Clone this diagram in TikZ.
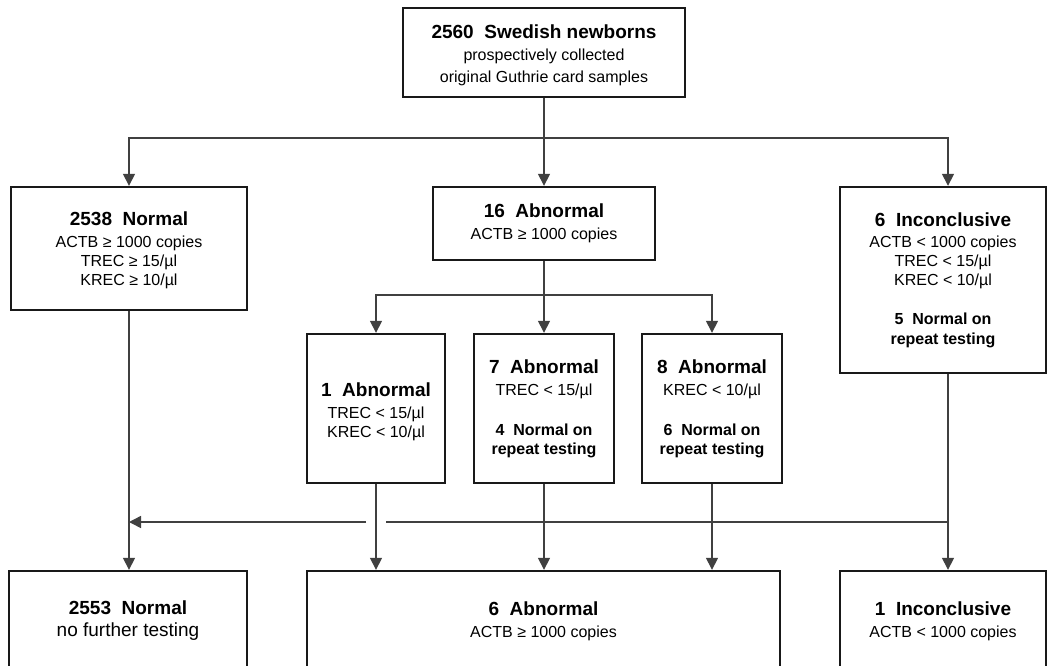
\documentclass[tikz,border=0pt]{standalone}
\usepackage{fontspec}
\setmainfont{Liberation Sans}
\usetikzlibrary{arrows.meta}
\newcommand\hdtext[1]{{\fontsize{19}{19}\selectfont\bfseries #1}}
\newcommand\bdtext[1]{{\bfseries #1}}
\begin{document}
\begin{tikzpicture}[x=1pt,y=-1pt,
  box/.style={draw=black!90, line width=2.4pt, inner sep=0pt, align=center, font=\fontsize{16}{19}\selectfont, fill=white},
  conn/.style={draw=black!75, line width=1.5pt},
  arr/.style={conn, -{Triangle[length=12pt,width=12pt]}},
]
\clip (0,0) rectangle (1048,665);
\fill[white] (0,0) rectangle (1048,665);

\node[box, minimum width=282pt, minimum height=89pt, font=\fontsize{16}{22}\selectfont] (top) at (544,52.5)
  {\rule{0pt}{20pt}\hdtext{2560\ \ Swedish newborns}\\prospectively collected\\original Guthrie card samples};

\node[box, minimum width=236pt, minimum height=123pt] (n1) at (129,248.5)
  {\rule{0pt}{18pt}\hdtext{2538\ \ Normal}\\[3pt]ACTB ≥ 1000 copies\\TREC ≥ 15/µl\\KREC ≥ 10/µl};
\node[box, minimum width=222pt, minimum height=73pt] (a16) at (544,223.5)
  {\hdtext{16\ \ Abnormal}\\[3pt]ACTB ≥ 1000 copies};
\node[box, minimum width=206pt, minimum height=186pt] (inc6) at (943,280)
  {\hdtext{6\ \ Inconclusive}\\[2pt]ACTB < 1000 copies\\TREC < 15/µl\\KREC < 10/µl\\[20pt]\bdtext{5\ \ Normal on}\\[1pt]\bdtext{repeat testing}};

\node[box, minimum width=138pt, minimum height=149pt] (ab1) at (376,408.5)
  {\rule{0pt}{20pt}\hdtext{1\ \ Abnormal}\\[3pt]TREC < 15/µl\\KREC < 10/µl};
\node[box, minimum width=140pt, minimum height=149pt] (ab7) at (544,408.5)
  {\hdtext{7\ \ Abnormal}\\[3pt]TREC < 15/µl\\[21pt]\bdtext{4\ \ Normal on}\\\bdtext{repeat testing}};
\node[box, minimum width=140pt, minimum height=149pt] (ab8) at (712,408.5)
  {\hdtext{8\ \ Abnormal}\\[3pt]KREC < 10/µl\\[21pt]\bdtext{6\ \ Normal on}\\\bdtext{repeat testing}};

\node[box, minimum width=238pt, minimum height=100pt] (nf) at (128,621)
  {\hdtext{2553\ \ Normal}\\[3pt]{\fontsize{19}{19}\selectfont no further testing}};
\node[box, minimum width=473pt, minimum height=100pt] (ab6) at (543.5,621)
  {\hdtext{6\ \ Abnormal}\\[3pt]ACTB ≥ 1000 copies};
\node[box, minimum width=206pt, minimum height=100pt] (inc1) at (943,621)
  {\hdtext{1\ \ Inconclusive}\\[3pt]ACTB < 1000 copies};

% first branching
\coordinate (b1) at (544,138);
\draw[arr] (top.south) -- (a16.north);
\draw[arr] (b1) -| (n1.north);
\draw[arr] (b1) -| ([xshift=5pt]inc6.north);

% second branching
\coordinate (b2) at (544,295);
\draw[arr] (a16.south) -- (ab7.north);
\draw[arr] (b2) -| (ab1.north);
\draw[arr] (b2) -| (ab8.north);

% down to final boxes
\draw[arr] (n1.south) -- (n1.south |- nf.north);
\draw[arr] (ab1.south) -- (ab1.south |- ab6.north);
\draw[arr] (ab7.south) -- (ab7.south |- ab6.north);
\draw[arr] (ab8.south) -- (ab8.south |- ab6.north);
\draw[arr] ([xshift=5pt]inc6.south) -- ([xshift=5pt]inc1.north);

% return line
\coordinate (rR) at (948,522);
\coordinate (gR) at (386,522);
\coordinate (gL) at (366,522);
\coordinate (rL) at (129,522);
\draw[conn] (rR) -- (gR);
\draw[arr] (gL) -- (rL);
\end{tikzpicture}
\end{document}
